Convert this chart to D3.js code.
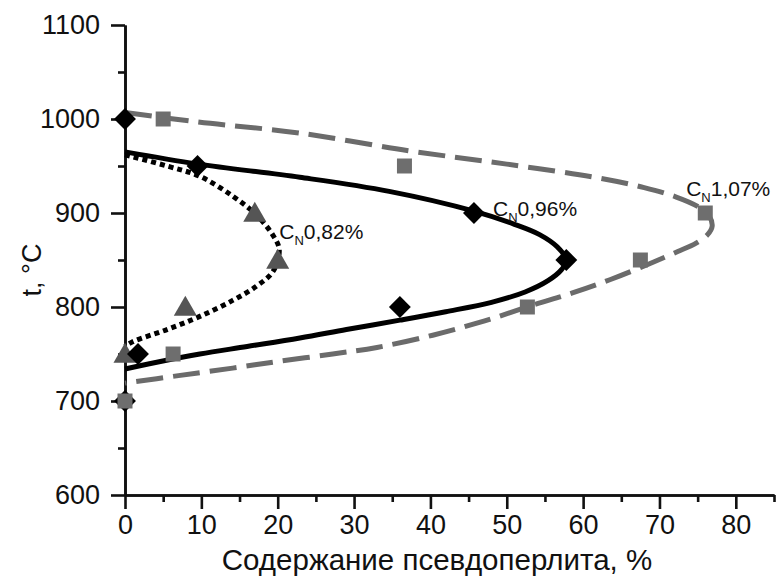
<!DOCTYPE html>
<html>
<head>
<meta charset="utf-8">
<script src="https://cdn.jsdelivr.net/npm/d3@7/dist/d3.min.js"></script>
<style>
  html, body { margin: 0; padding: 0; background: #fff; }
  svg { display: block; }
  text { font-family: "Liberation Sans", Arial, sans-serif; fill: #111; }
</style>
</head>
<body>
<svg id="chart" width="776" height="579"></svg>
<script>
// Measured points: pseudo-pearlite content (%) vs. temperature (°C)
const pts107 = [[5, 1000], [36.6, 950], [76, 900], [67.5, 850], [52.7, 800], [6.3, 750], [0, 700]];
const pts096 = [[0, 700], [0, 1000], [9.5, 950], [45.7, 900], [57.8, 850], [36, 800], [1.7, 750]];
const pts082 = [[0, 750], [17, 900], [20, 850], [7.9, 800]];

// Fitted boundary curves (%, °C), traced from top branch to bottom branch
const fit107 = [[0, 1007], [9.4, 997], [22.9, 985], [37.3, 966], [50, 952], [62.2, 937], [68, 927], [72.2, 917], [75, 907], [76.5, 897], [76.9, 886], [76.3, 877], [74.8, 868], [72.4, 859], [68.7, 846], [63.5, 829], [58.6, 815], [53.4, 802], [47, 785], [40.3, 770], [33, 757], [27.2, 750], [20, 742], [14.1, 735], [7, 727], [0, 719]];
const fit096 = [[0, 965], [9.6, 952], [22.9, 938], [34.6, 923], [45.7, 902], [51, 888], [54.3, 877], [56.6, 864], [57.8, 850], [57.2, 840], [55.4, 828], [52.4, 816], [48, 805], [42, 795], [36, 786], [29, 776], [22.9, 767], [16, 758], [9.8, 750], [4, 741], [0, 734]];
const fit082 = [[0, 962], [5.5, 950], [9.8, 939], [14.1, 918], [17.2, 898], [19.4, 876], [20.2, 861], [19.4, 838], [17.2, 822], [14.1, 807], [9.8, 790], [5.5, 776], [1, 763], [0, 758]];

// Axis ticks
const xMajor = [0, 10, 20, 30, 40, 50, 60, 70, 80];
const xMinor = [5, 15, 25, 35, 45, 55, 65, 75, 85];
const yMajor = [600, 700, 800, 900, 1000, 1100];
const yMinor = [650, 750, 850, 950, 1050];

const svg = d3.select("#chart");
const x = d3.scaleLinear().domain([0, 85]).range([125, 774]);
const y = d3.scaleLinear().domain([600, 1100]).range([495, 25]);

const FS = 27;

// Axes
function styleAxis(g) {
  g.selectAll("path.domain").attr("stroke", "#111").attr("stroke-width", 2.6);
  g.selectAll(".tick line").attr("stroke", "#111").attr("stroke-width", 2.6);
  g.selectAll(".tick text").attr("font-size", FS).attr("fill", "#111")
    .attr("font-family", '"Liberation Sans", Arial, sans-serif');
}

svg.append("g").attr("transform", `translate(0,${y(600)})`)
  .call(d3.axisBottom(x).tickValues(xMinor).tickSize(7).tickSizeOuter(0).tickFormat(""))
  .call(styleAxis);
svg.append("g").attr("transform", `translate(0,${y(600)})`)
  .call(d3.axisBottom(x).tickValues(xMajor).tickSize(14).tickSizeOuter(0).tickPadding(6).tickFormat(d3.format("d")))
  .call(styleAxis);

svg.append("g").attr("transform", `translate(${x(0)},0)`)
  .call(d3.axisLeft(y).tickValues(yMinor).tickSize(7).tickSizeOuter(0).tickFormat(""))
  .call(styleAxis);
svg.append("g").attr("transform", `translate(${x(0)},0)`)
  .call(d3.axisLeft(y).tickValues(yMajor).tickSize(14).tickSizeOuter(0).tickPadding(11).tickFormat(d3.format("d")))
  .call(styleAxis);

// Axis titles
svg.append("text").attr("x", 437).attr("y", 570).attr("text-anchor", "middle")
  .attr("font-size", 29.5).text("Содержание псевдоперлита, %");
svg.append("text").attr("transform", "translate(41,270) rotate(-90)")
  .attr("text-anchor", "middle").attr("font-size", FS).text("t, °C");

// Curves
const line = d3.line().x(d => x(d[0])).y(d => y(d[1])).curve(d3.curveCatmullRom.alpha(0.5));

svg.append("path").datum(fit107).attr("d", line).attr("fill", "none")
  .attr("stroke", "#6b6b6b").attr("stroke-width", 5).attr("stroke-dasharray", "27,10");
svg.append("path").datum(fit096).attr("d", line).attr("fill", "none")
  .attr("stroke", "#000").attr("stroke-width", 5);
svg.append("path").datum(fit082).attr("d", line).attr("fill", "none")
  .attr("stroke", "#000").attr("stroke-width", 5).attr("stroke-dasharray", "5,4");

// Markers
const sym = (type, size) => d3.symbol().type(type).size(size)();

svg.append("g").selectAll("path").data(pts082).join("path")
  .attr("transform", d => `translate(${x(d[0])},${y(d[1]) + 2})`)
  .attr("d", sym(d3.symbolTriangle, 230)).attr("fill", "#555");

svg.append("g").selectAll("path").data(pts096).join("path")
  .attr("transform", d => `translate(${x(d[0])},${y(d[1])}) rotate(45)`)
  .attr("d", sym(d3.symbolSquare, 240)).attr("fill", "#000");

svg.append("g").selectAll("path").data(pts107).join("path")
  .attr("transform", d => `translate(${x(d[0])},${y(d[1])})`)
  .attr("d", sym(d3.symbolSquare, 225)).attr("fill", "#6e6e6e");

// Curve labels: C with subscript N
function cnLabel(px, py, value) {
  const t = svg.append("text").attr("x", px).attr("y", py).attr("font-size", 21).attr("fill", "#111");
  t.append("tspan").text("C");
  t.append("tspan").attr("font-size", 13).attr("dy", 6).attr("fill", "#111").text("N");
  t.append("tspan").attr("dy", -6).text(value);
}
cnLabel(x(20.2), y(872), "0,82%");
cnLabel(x(48.2), y(897), "0,96%");
cnLabel(x(73.5), y(918), "1,07%");
</script>
</body>
</html>
